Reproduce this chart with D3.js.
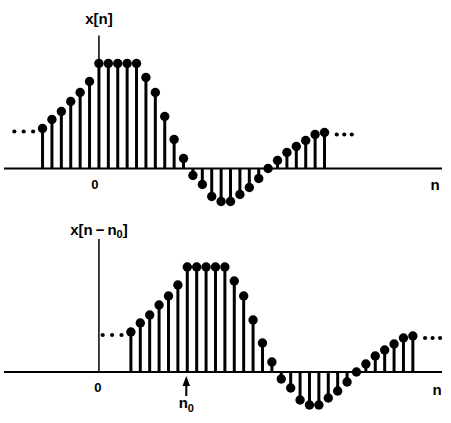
<!DOCTYPE html>
<html>
<head>
<meta charset="utf-8">
<script src="https://cdn.jsdelivr.net/npm/d3@7"></script>
<style>
  body { margin: 0; background: #fff; }
  svg text { font-family: "Liberation Sans", Arial, sans-serif; fill: #000; font-weight: bold; }
</style>
</head>
<body>
<div id="plot"></div>
<script>
"use strict";

// sample index n and x[n] (peak height = 105)
const nValues = [-6, -5, -4, -3, -2, -1, 0, 1, 2, 3, 4, 5, 6, 7, 8, 9, 10, 11, 12,
    13, 14, 15, 16, 17, 18, 19, 20, 21, 22, 23, 24];
const xValues = [40, 49, 57, 67, 76, 87, 105, 105, 105, 105, 105, 91, 76, 52, 29, 10,
    -7, -16, -28, -33, -33, -26, -19, -10, 0, 8, 16, 22, 28, 34, 36];

// the "..." continuation dots on each side
const dotsLeftN = [-9, -8, -7];
const dotsLeftValue = 37;
const dotsRightN = [25.3, 26.1, 26.9];
const dotsRightValue = 34;

// shift of the lower sequence (as drawn)
const n0 = 9.4;

const msm = {
    width: 451,
    height: 423,
    axisLeft: 4,
    axisRight: 442,
    topBase: 168.5,
    bottomBase: 372,
    peak: 105,
    axisTopValue: 133,
    stemWidth: 3,
    dotRadius: 4.7
}

let svg;

window.onload = function () {
    svg = d3.select("#plot")
        .append('svg')
        .attr('width', msm.width)
        .attr('height', msm.height);
    main();
}

function main() {
    let xScale = d3.scaleLinear()
        .domain([-10.1, 36.5])
        .range([msm.axisLeft, msm.axisRight]);

    let topY = d3.scaleLinear()
        .domain([0, msm.peak])
        .range([msm.topBase, msm.topBase - msm.peak]);
    let bottomY = d3.scaleLinear()
        .domain([0, msm.peak])
        .range([msm.bottomBase, msm.bottomBase - msm.peak]);

    let data = nValues.map((n, i) => ({ n: n, v: xValues[i] }));

    drawPanel(xScale, topY, data, 0);
    drawPanel(xScale, bottomY, data, n0);
    drawLabels(xScale);
}

function drawPanel(xScale, yScale, data, shift) {
    let g = svg.append('g');

    // horizontal axis
    g.append('line')
        .attr('x1', msm.axisLeft)
        .attr('x2', msm.axisRight)
        .attr('y1', yScale(0))
        .attr('y2', yScale(0))
        .attr('stroke', '#000')
        .attr('stroke-width', 2.2);

    // vertical axis at n = 0
    g.append('line')
        .attr('x1', xScale(0))
        .attr('x2', xScale(0))
        .attr('y1', yScale(msm.axisTopValue))
        .attr('y2', yScale(0))
        .attr('stroke', '#000')
        .attr('stroke-width', 1.5);

    // stems
    g.selectAll('line.stem')
        .data(data)
        .enter()
        .append('line')
        .attr('class', 'stem')
        .attr('x1', d => xScale(d.n + shift))
        .attr('x2', d => xScale(d.n + shift))
        .attr('y1', yScale(0))
        .attr('y2', d => yScale(d.v))
        .attr('stroke', '#000')
        .attr('stroke-width', msm.stemWidth);

    // dots on top of stems
    g.selectAll('circle.head')
        .data(data)
        .enter()
        .append('circle')
        .attr('class', 'head')
        .attr('cx', d => xScale(d.n + shift))
        .attr('cy', d => yScale(d.v))
        .attr('r', msm.dotRadius)
        .attr('fill', '#000');

    // continuation dots
    let more = dotsLeftN.map(n => ({ n: n, v: dotsLeftValue }))
        .concat(dotsRightN.map(n => ({ n: n, v: dotsRightValue })));
    g.selectAll('circle.more')
        .data(more)
        .enter()
        .append('circle')
        .attr('class', 'more')
        .attr('cx', d => xScale(d.n + shift))
        .attr('cy', d => yScale(d.v))
        .attr('r', 2.1)
        .attr('fill', '#000');
}

function drawLabels(xScale) {
    // top panel
    svg.append('text')
        .attr('x', xScale(0))
        .attr('y', 24)
        .attr('text-anchor', 'middle')
        .style('font-size', '15px')
        .text('x[n]');
    svg.append('text')
        .attr('x', xScale(0) - 4)
        .attr('y', 188.5)
        .attr('text-anchor', 'middle')
        .style('font-size', '13px')
        .text('0');
    svg.append('text')
        .attr('x', 435)
        .attr('y', 190)
        .attr('text-anchor', 'middle')
        .style('font-size', '15px')
        .text('n');

    // bottom panel
    let lab = svg.append('text')
        .attr('x', xScale(0))
        .attr('y', 235)
        .attr('text-anchor', 'middle')
        .style('font-size', '15px');
    lab.append('tspan').text('x[n\u2009\u2212\u2009n');
    lab.append('tspan').attr('dy', 3).style('font-size', '11px').text('0');
    lab.append('tspan').attr('dy', -3).text(']');

    svg.append('text')
        .attr('x', xScale(0) - 1)
        .attr('y', 391.5)
        .attr('text-anchor', 'middle')
        .style('font-size', '13px')
        .text('0');
    svg.append('text')
        .attr('x', 437)
        .attr('y', 395)
        .attr('text-anchor', 'middle')
        .style('font-size', '15px')
        .text('n');

    // arrow pointing at n0
    let ax = xScale(n0) - 1;
    svg.append('line')
        .attr('x1', ax).attr('x2', ax)
        .attr('y1', 396).attr('y2', 383)
        .attr('stroke', '#000')
        .attr('stroke-width', 2);
    svg.append('path')
        .attr('d', `M${ax},376 L${ax - 3.8},386 L${ax + 3.8},386 Z`)
        .attr('fill', '#000');

    let n0lab = svg.append('text')
        .attr('x', ax)
        .attr('y', 408)
        .attr('text-anchor', 'middle')
        .style('font-size', '15px');
    n0lab.append('tspan').text('n');
    n0lab.append('tspan').attr('dy', 4).style('font-size', '11px').text('0');
}
</script>
</body>
</html>
